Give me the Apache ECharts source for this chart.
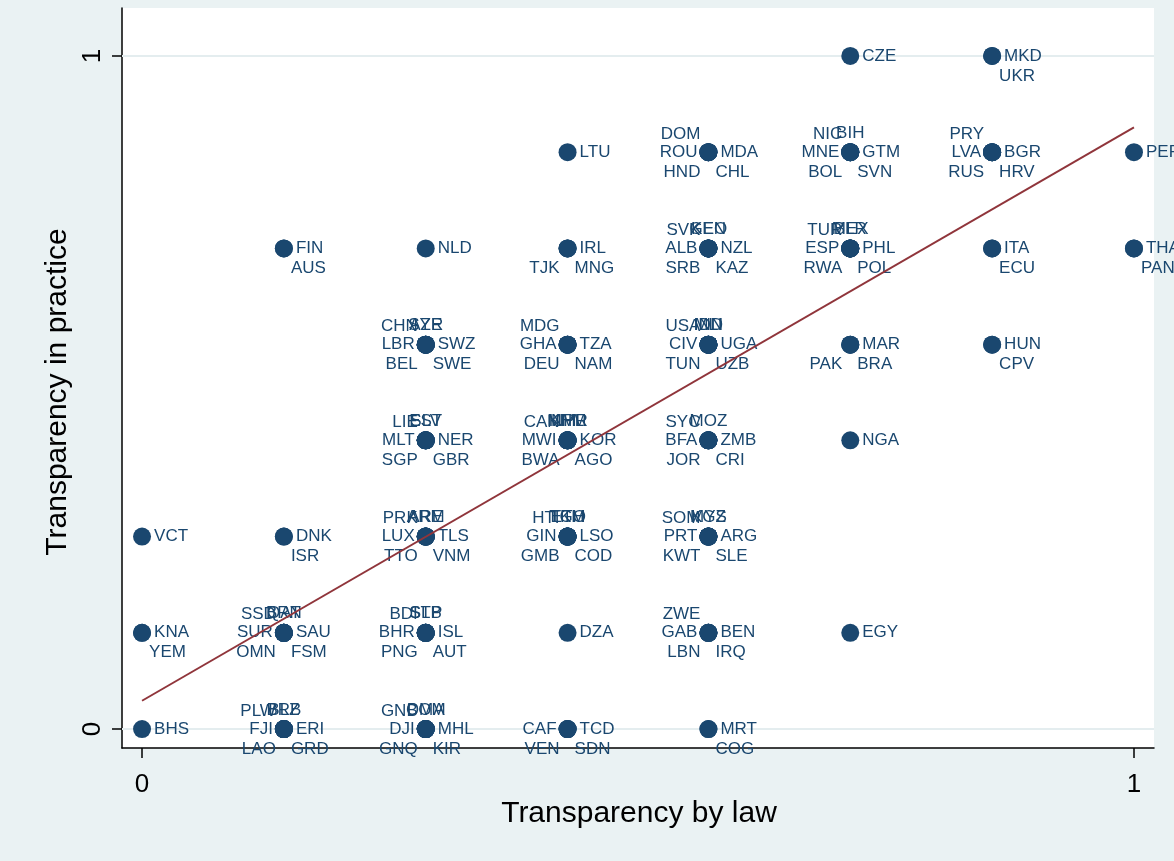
<!DOCTYPE html>
<html><head><meta charset="utf-8">
<script src="https://cdn.jsdelivr.net/npm/echarts@6/dist/echarts.min.js"></script>
<style>html,body{margin:0;padding:0;background:#fff}#c{width:1174px;height:861px}</style>
</head><body><div id="c"></div>
<script>
// ---- data (law and practice scores come in steps of 1/7) ----
const pointLaw = [
  0.714, 0.857,
  0.429, 0.571, 0.714, 0.857, 1,
  0.143, 0.286, 0.429, 0.571, 0.714, 0.857, 1,
  0.286, 0.429, 0.571, 0.714, 0.857,
  0.286, 0.429, 0.571, 0.714,
  0, 0.143, 0.286, 0.429, 0.571,
  0, 0.143, 0.286, 0.429, 0.571, 0.714,
  0, 0.143, 0.286, 0.429, 0.571
];
const pointPractice = [
  1, 1,
  0.857, 0.857, 0.857, 0.857, 0.857,
  0.714, 0.714, 0.714, 0.714, 0.714, 0.714, 0.714,
  0.571, 0.571, 0.571, 0.571, 0.571,
  0.429, 0.429, 0.429, 0.429,
  0.286, 0.286, 0.286, 0.286, 0.286,
  0.143, 0.143, 0.143, 0.143, 0.143, 0.143,
  0, 0, 0, 0, 0
];
const pointCodes = [
  ['CZE'], ['MKD','UKR'],
  ['LTU'], ['DOM','ROU','MDA','HND','CHL'], ['NIC','BIH','MNE','GTM','BOL','SVN'], ['PRY','LVA','BGR','RUS','HRV'], ['PER'],
  ['FIN','AUS'], ['NLD'], ['IRL','TJK','MNG'], ['SVK','KEN','GEO','ALB','NZL','SRB','KAZ'], ['TUR','MEX','BLR','ESP','PHL','RWA','POL'], ['ITA','ECU'], ['THA','PAN'],
  ['CHN','SYR','AZE','LBR','SWZ','BEL','SWE'], ['MDG','GHA','TZA','DEU','NAM'], ['USA','MLI','IND','IDN','CIV','UGA','TUN','UZB'], ['MAR','PAK','BRA'], ['HUN','CPV'],
  ['LIE','EST','SLV','MLT','NER','SGP','GBR'], ['CAN','KHM','NPL','MMR','MWI','KOR','BWA','AGO'], ['SYC','MOZ','BFA','ZMB','JOR','CRI'], ['NGA'],
  ['VCT'], ['DNK','ISR'], ['PRK','ARE','ARM','LUX','TLS','TTO','VNM'], ['HTI','TGO','TKM','ETH','GIN','LSO','GMB','COD'], ['SOM','KGZ','MYS','PRT','ARG','KWT','SLE'],
  ['KNA','YEM'], ['SSD','BRN','QAT','SUR','SAU','OMN','FSM'], ['BDI','STP','SLB','BHR','ISL','PNG','AUT'], ['DZA'], ['ZWE','GAB','BEN','LBN','IRQ'], ['EGY'],
  ['BHS'], ['PLW','BRB','BLZ','FJI','ERI','LAO','GRD'], ['GNB','COM','DMA','DJI','MHL','GNQ','KIR'], ['CAF','TCD','VEN','SDN'], ['MRT','COG']
];
// label clock positions (Stata mlabvposition)
const pointClocks = [
  [3], [3,5],
  [3], [11,9,3,7,5], [11,12,9,3,7,5], [11,9,3,7,5], [3],
  [3,5], [3], [3,7,5], [11,12,12,9,3,7,5], [11,12,12,9,3,7,5], [3,5], [3,5],
  [11,12,12,9,3,7,5], [11,9,3,7,5], [11,12,12,12,9,3,7,5], [3,7,5], [3,5],
  [11,12,12,9,3,7,5], [11,12,12,12,9,3,7,5], [11,12,9,3,7,5], [3],
  [3], [3,5], [11,12,12,9,3,7,5], [11,12,12,12,9,3,7,5], [11,12,12,9,3,7,5],
  [3,5], [11,12,12,9,3,7,5], [11,12,12,9,3,7,5], [3], [11,9,3,7,5], [3],
  [3], [11,12,12,9,3,7,5], [11,12,12,9,3,7,5], [9,3,7,5], [3,5]
];
// linear fit endpoints
const fitX = [0, 1];
const fitY = [0.042, 0.894];
const tickValues = [0, 1];
const xTitle = 'Transparency by law';
const yTitle = 'Transparency in practice';

// ---- chart ----
const NAVY = '#1A476F';
const FONT = '"Liberation Sans", Arial, sans-serif';
const clockStyle = {
  3:  {align: 'left',   dx: 12,  dy: 0},
  9:  {align: 'right',  dx: -11, dy: 0},
  11: {align: 'right',  dx: -8,  dy: -18},
  12: {align: 'center', dx: 0,   dy: -19},
  7:  {align: 'right',  dx: -8,  dy: 20},
  5:  {align: 'left',   dx: 7,   dy: 20}
};
const pts = [];
const ptClock = [];
pointLaw.forEach((x, i) => {
  pointCodes[i].forEach((code, j) => {
    pts.push({name: code, value: [x, pointPractice[i]]});
    ptClock.push(pointClocks[i][j]);
  });
});

const chart = echarts.init(document.getElementById('c'), null, {renderer: 'canvas'});
chart.setOption({
  animation: false,
  backgroundColor: '#EAF2F3',
  textStyle: {fontFamily: FONT},
  grid: {left: 122, right: 20, top: 8, bottom: 113, show: true,
         backgroundColor: '#ffffff', borderWidth: 0},
  xAxis: {
    type: 'value', min: -0.0202, max: 1.0202,
    axisLine: {show: true, onZero: false, lineStyle: {color: '#000', width: 1.5}},
    axisTick: {show: true, customValues: tickValues, length: 10, lineStyle: {color: '#000', width: 1.5}},
    axisLabel: {show: true, customValues: tickValues, fontSize: 26, color: '#000', margin: 24,
                fontFamily: FONT},
    splitLine: {show: false}
  },
  yAxis: {
    type: 'value', min: -0.0282, max: 1.0713,
    axisLine: {show: true, onZero: false, lineStyle: {color: '#000', width: 1.5}},
    axisTick: {show: true, customValues: tickValues, length: 10, lineStyle: {color: '#000', width: 1.5}},
    axisLabel: {show: true, customValues: tickValues, fontSize: 26, color: '#000', margin: 16,
                rotate: 90, fontFamily: FONT},
    splitLine: {show: false}
  },
  graphic: [
    {type: 'text', x: 639, y: 814, z: 10,
     style: {text: xTitle, font: '30px ' + FONT, fill: '#000', textAlign: 'center', textVerticalAlign: 'middle'}},
    {type: 'text', x: 58, y: 392, rotation: Math.PI / 2, z: 10,
     style: {text: yTitle, font: '30px ' + FONT, fill: '#000', textAlign: 'center', textVerticalAlign: 'middle'}}
  ],
  series: [
    {
      type: 'line', data: [], z: 1, silent: true,
      markLine: {z: 1, silent: true, symbol: 'none', label: {show: false}, animation: false,
        lineStyle: {color: '#E4EDEF', width: 2, type: 'solid'},
        data: tickValues.map(v => ({yAxis: v}))}
    },
    {
      type: 'scatter', z: 6, symbol: 'circle', symbolSize: 18,
      itemStyle: {color: NAVY, opacity: 1},
      label: {show: true, position: 'inside', color: NAVY, fontSize: 17, fontFamily: FONT,
              formatter: p => p.name},
      labelLayout: function (p) {
        const cs = clockStyle[ptClock[p.dataIndex]];
        return {
          x: p.rect.x + p.rect.width / 2 + cs.dx,
          y: p.rect.y + p.rect.height / 2 + cs.dy,
          align: cs.align,
          verticalAlign: 'middle',
          hideOverlap: false
        };
      },
      data: pts
    },
    {
      type: 'line', z: 7, symbol: 'none', silent: true,
      lineStyle: {color: '#90353B', width: 2},
      data: fitX.map((x, i) => [x, fitY[i]])
    }
  ]
});
</script></body></html>
